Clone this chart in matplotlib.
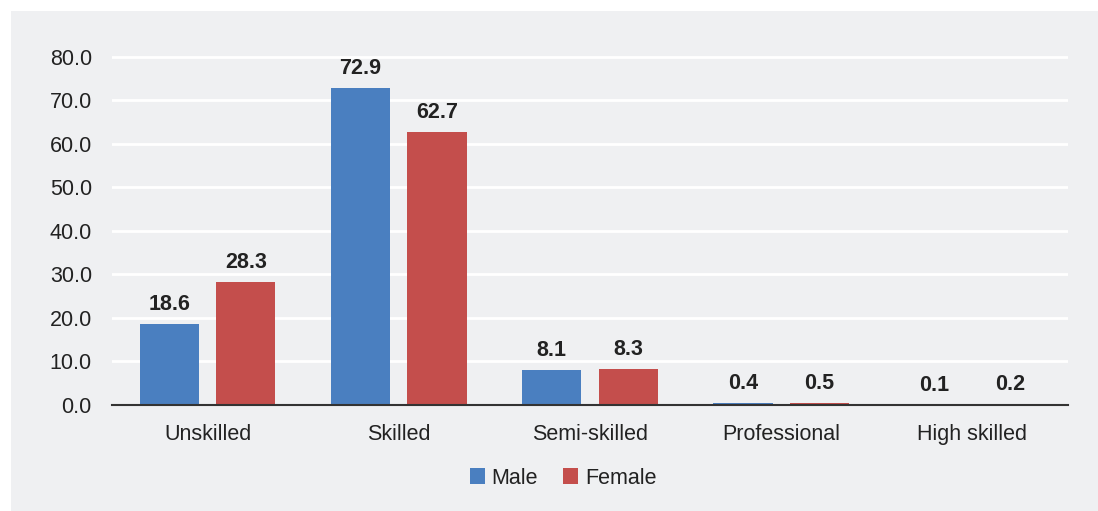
import numpy as np
import matplotlib.pyplot as plt
from matplotlib.patches import Rectangle

categorias = ['Unskilled', 'Skilled', 'Semi-skilled', 'Professional', 'High skilled']
male = [18.6, 72.9, 8.1, 0.4, 0.1]
female = [28.3, 62.7, 8.3, 0.5, 0.2]
series = ['Male', 'Female']
colores = ['#4a7fc0', '#c44e4c']
yticks = [0, 10, 20, 30, 40, 50, 60, 70, 80]

fondo = '#eff0f2'
texto = '#222222'


def main():
    plt.rcParams['font.family'] = ['Liberation Sans', 'DejaVu Sans']
    fig = plt.figure(figsize=(10.98, 5.11), dpi=100)
    fig.patch.set_facecolor('white')
    # panel gris de fondo
    fig.patches.append(Rectangle((11 / 1098, 0), 1, 1 - 11 / 511, transform=fig.transFigure,
                                 facecolor=fondo, edgecolor='none', zorder=-10))

    ax = fig.add_axes([112 / 1098, 1 - 405 / 511, (1068 - 112) / 1098, (405 - 54.8) / 511])
    ax.set_facecolor('none')

    x = np.arange(len(categorias))
    ancho = 0.31
    for i, (vals, nombre, col) in enumerate(zip([male, female], series, colores)):
        pos = x + (i - 0.5) * 0.4
        barras = ax.bar(pos, vals, width=ancho, color=col, label=nombre, zorder=3)
        for b, v in zip(barras, vals):
            ax.annotate(f'{v:.1f}', (b.get_x() + b.get_width() / 2, v),
                        xytext=(0, 6.5), textcoords='offset points',
                        ha='center', va='bottom', fontsize=15.5, fontweight='bold', color=texto)

    ax.set_xlim(-0.5, len(categorias) - 0.5)
    ax.set_ylim(0, 80.5)
    ax.set_yticks(yticks)
    ax.set_yticklabels([f'{t:.1f}' for t in yticks])
    ax.set_xticks(x)
    ax.set_xticklabels(categorias)
    ax.tick_params(axis='both', length=0, labelsize=15.5, colors=texto)
    ax.tick_params(axis='y', pad=14.5)
    ax.tick_params(axis='x', pad=13.5)

    ax.grid(axis='y', color='white', linewidth=2, zorder=1)
    for lado in ['top', 'right', 'left']:
        ax.spines[lado].set_visible(False)
    ax.spines['bottom'].set_color('#333333')
    ax.spines['bottom'].set_linewidth(1.5)
    ax.spines['bottom'].set_zorder(4)

    fig.legend(loc='center', bbox_to_anchor=(563 / 1098, 1 - 478 / 511), ncol=2, frameon=False,
               fontsize=15.5, handlelength=0.7, handleheight=0.7, handletextpad=0.3,
               columnspacing=1.2, labelcolor=texto)

    fig.savefig('out.png', dpi=100, facecolor=fig.get_facecolor())


if __name__ == '__main__':
    main()
